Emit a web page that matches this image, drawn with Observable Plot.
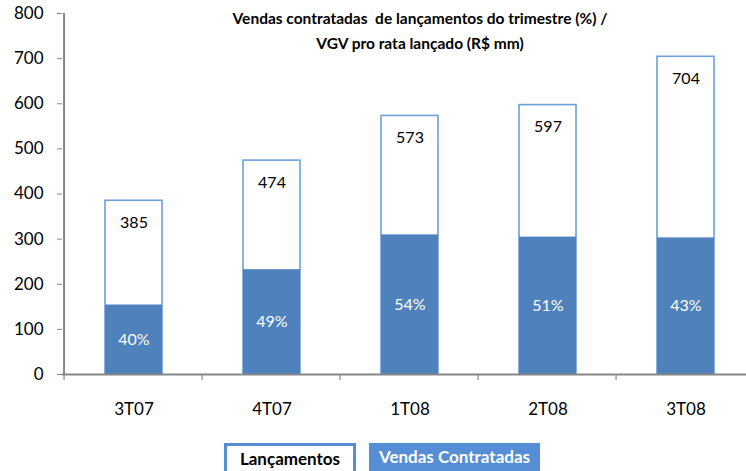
<!DOCTYPE html>
<html>
<head>
<meta charset="utf-8">
<script src="https://cdn.jsdelivr.net/npm/d3@7"></script>
<script src="https://cdn.jsdelivr.net/npm/@observablehq/plot@0.6"></script>
<style>
  html, body { margin: 0; padding: 0; background: #fff; }
  #wrap { position: relative; width: 746px; height: 471px; overflow: hidden; font-family: Lato, "Open Sans", sans-serif; }
  #title { position: absolute; left: 200px; width: 440px; top: 6px; text-align: center; font-weight: bold; font-size: 15.5px; line-height: 25px; color: #000; }
  #legend { position: absolute; top: 443px; left: 0; width: 746px; height: 28px; }
  .lg { position: absolute; top: 0; height: 28px; box-sizing: border-box; font-weight: bold; font-size: 17px; line-height: 25px; text-align: center; white-space: nowrap; }
  #lg1 { left: 224px; width: 132px; border: 3px solid #558ed5; border-bottom: none; color: #000; background: #fff; }
  #lg2 { left: 369px; width: 171px; background: #558ed5; color: #fff; line-height: 28px; }
</style>
</head>
<body>
<div id="wrap">
  <div id="chart"></div>
  <div id="title">Vendas contratadas&nbsp; de lançamentos do trimestre (%) /<br>VGV pro rata lançado (R$ mm)</div>
  <div id="legend">
    <div class="lg" id="lg1">Lançamentos</div>
    <div class="lg" id="lg2">Vendas Contratadas</div>
  </div>
</div>
<script>
const quarters = ["3T07", "4T07", "1T08", "2T08", "3T08"];
const launched = [385, 474, 573, 597, 704];
const soldPct = [40, 49, 54, 51, 43];
const yTicks = [0, 100, 200, 300, 400, 500, 600, 700, 800];

const rows = quarters.map((q, i) => ({
  q, total: launched[i], pct: soldPct[i], sold: launched[i] * soldPct[i] / 100
}));

const xRange = [62, 756];
const padInner = 0.59, padOuter = 0.295;
const step = (xRange[1] - xRange[0]) / quarters.length;

// category-boundary ticks below the x axis, placed from the band scale
function boundaryTicks(index, scales) {
  const g = d3.create("svg:g");
  const y0 = scales.y(0);
  quarters.forEach(q => {
    const x = scales.x(q) - padOuter * step;
    g.append("line").attr("x1", x).attr("x2", x).attr("y1", y0).attr("y2", y0 + 6)
      .attr("stroke", "#868686").attr("stroke-width", 1.2);
  });
  // y axis line at the left edge of the first band step
  const xl = scales.x(quarters[0]) - padOuter * step;
  g.append("line").attr("x1", xl).attr("x2", xl)
    .attr("y1", y0 + 1).attr("y2", scales.y(800))
    .attr("stroke", "#868686").attr("stroke-width", 2);
  return g.node();
}

const chart = Plot.plot({
  width: 746,
  height: 430,
  marginTop: 13,
  marginBottom: 56,
  marginLeft: 62,
  marginRight: 0,
  style: { fontFamily: "Lato, 'Open Sans', sans-serif", background: "transparent", overflow: "hidden" },
  x: { type: "band", domain: quarters, range: xRange, paddingInner: padInner, paddingOuter: padOuter, label: null },
  y: { domain: [0, 800], label: null },
  marks: [
    Plot.barY(rows, { x: "q", y: "total", fill: "white", stroke: "#6f9fdc", strokeWidth: 1.6 }),
    Plot.barY(rows, { x: "q", y: "sold", fill: "#4f81bd" }),
    Plot.text(rows, { x: "q", y: "total", text: d => String(d.total), dy: 22, fontSize: 16, fill: "#000" }),
    Plot.text(rows, { x: "q", y: d => d.sold / 2, text: d => d.pct + "%", fontSize: 16, fill: "#fff" }),
    Plot.ruleY([0], { stroke: "#868686", strokeWidth: 2 }),
    Plot.axisY({ ticks: yTicks, tickSize: 5, tickPadding: 14, stroke: "#868686", fill: "#000", fontSize: 17, tickFormat: d => String(d) }),
    Plot.axisX({ tickSize: 0, tickPadding: 28, fill: "#000", fontSize: 17 }),
    boundaryTicks
  ]
});
document.getElementById("chart").appendChild(chart);
</script>
</body>
</html>
